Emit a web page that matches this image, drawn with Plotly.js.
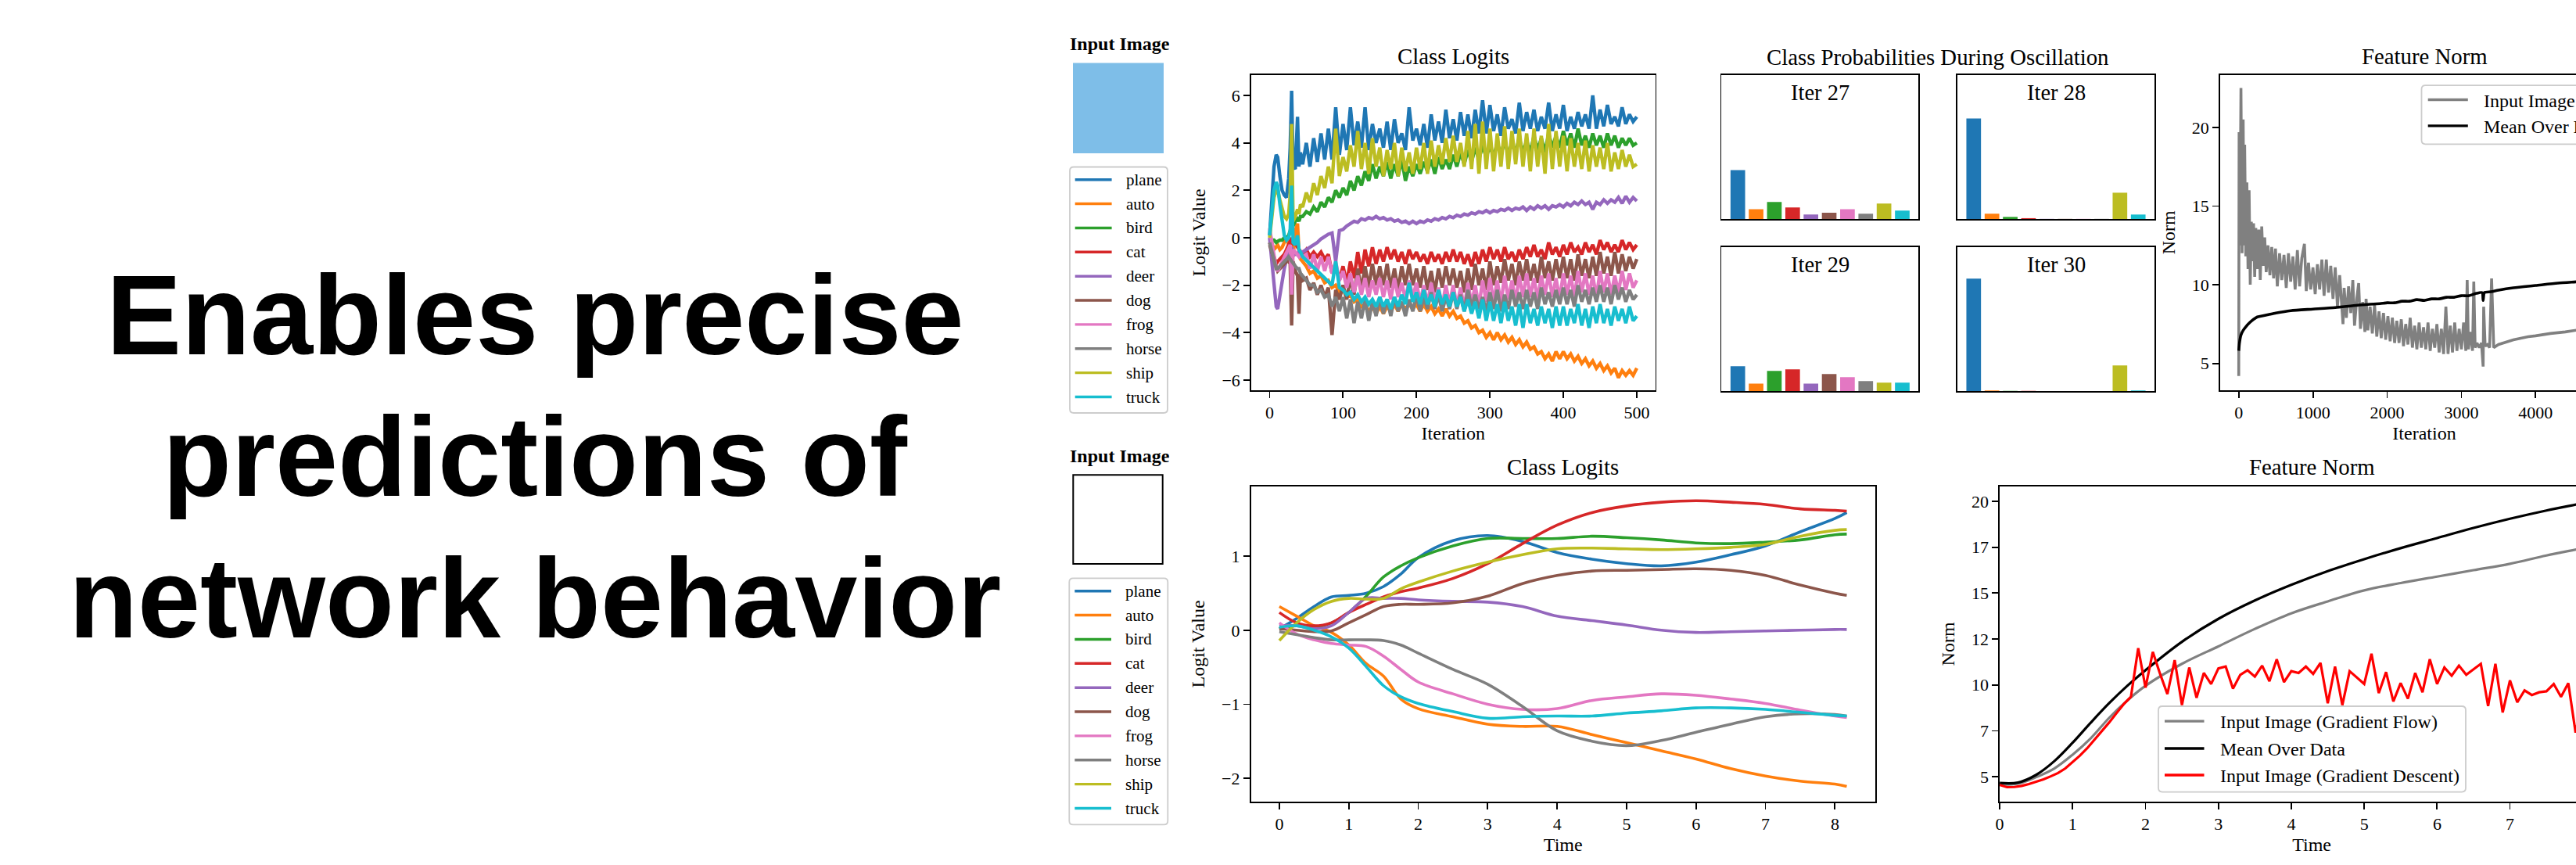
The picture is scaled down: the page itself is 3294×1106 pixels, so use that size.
<!DOCTYPE html>
<html>
<head>
<meta charset="utf-8">
<script src="https://cdn.plot.ly/plotly-3.0.1.min.js"></script>
<style>
html,body{margin:0;padding:0;background:#fff;overflow:hidden;}
#chart{width:3400px;height:1106px;}
</style>
</head>
<body>
<div id="chart"></div>
<script>
// ---------------- DATA ----------------
const CLASSES = ['plane','auto','bird','cat','deer','dog','frog','horse','ship','truck'];
const COLORS = ['#1f77b4','#ff7f0e','#2ca02c','#d62728','#9467bd','#8c564b','#e377c2','#7f7f7f','#bcbd22','#17becf'];

// Top row: gradient-descent class logits per iteration
const ITER_TOP = [0,3,6,9,11,14,17,20,23,26,28,30,32,35,38,40,42,45,
 50,55,60,65,70,75,80,85,90,95,
 100,105,110,115,120,125,130,135,140,145,
 150,155,160,165,170,175,180,185,190,195,
 200,205,210,215,220,225,230,235,240,245,
 250,255,260,265,270,275,280,285,290,295,
 300,305,310,315,320,325,330,335,340,345,
 350,355,360,365,370,375,380,385,390,395,
 400,405,410,415,420,425,430,435,440,445,
 450,455,460,465,470,475,480,485,490,495,500];

const TOP_PLANE = [0.1,1.5,3.0,3.5,3.4,2.6,2.0,1.8,1.7,2.5,3.8,6.2,3.0,2.9,5.1,3.0,3.6,3.1,
 4.0,3.0,4.2,3.2,4.4,3.3,4.6,3.3,5.5,3.5,
 4.8,3.7,5.5,3.9,4.9,3.8,5.5,3.7,4.8,4.0,
 4.6,3.8,4.9,3.7,5.0,4.0,4.4,3.7,5.5,4.1,
 4.6,3.9,4.8,3.8,5.2,4.1,4.9,4.0,5.4,4.2,
 5.0,4.1,5.3,4.3,5.2,4.2,5.4,4.4,5.8,4.4,
 5.6,4.5,5.2,4.3,5.5,4.6,5.0,4.4,5.7,4.5,
 5.3,4.6,5.4,4.5,5.1,4.6,5.7,4.5,5.2,4.6,
 5.6,4.5,5.1,4.6,5.3,4.7,5.2,4.6,6.0,4.6,
 5.4,4.7,5.6,4.8,5.1,4.7,5.5,4.8,5.2,4.9,5.1];
const TOP_AUTO = [-0.3,-0.2,-0.5,-0.4,-0.3,-0.5,-0.4,-0.2,0.0,-0.3,-0.5,-0.2,-0.8,0.3,0.6,-0.6,-0.9,-1.0,
 -1.2,-1.5,-1.4,-1.7,-1.6,-1.9,-1.8,-2.1,-2.0,-2.3,
 -2.2,-2.5,-2.4,-2.7,-2.6,-2.9,-2.8,-3.1,-2.9,-3.2,
 -2.9,-3.2,-2.9,-3.1,-2.8,-3.1,-2.8,-3.0,-2.8,-3.0,
 -2.8,-3.1,-2.8,-3.1,-2.9,-3.2,-3.0,-3.3,-3.0,-3.3,
 -3.1,-3.4,-3.3,-3.6,-3.5,-3.8,-3.7,-4.0,-3.9,-4.2,
 -4.0,-4.3,-4.0,-4.3,-4.1,-4.4,-4.2,-4.5,-4.3,-4.6,
 -4.4,-4.7,-4.6,-4.9,-4.8,-5.1,-4.9,-5.2,-4.8,-5.1,
 -4.8,-5.1,-4.9,-5.2,-5.0,-5.3,-5.1,-5.4,-5.2,-5.5,
 -5.3,-5.6,-5.4,-5.7,-5.5,-5.9,-5.6,-5.8,-5.6,-5.8,-5.5];
const TOP_BIRD = [0.0,-0.1,-0.1,-0.2,-0.15,-0.1,-0.1,0.0,0.0,0.1,0.3,0.6,0.5,0.7,0.8,0.7,0.9,0.9,
 1.1,1.0,1.3,1.1,1.5,1.3,1.7,1.5,2.0,1.7,
 2.1,1.8,2.4,2.0,2.6,2.2,2.8,2.4,3.1,2.5,
 3.0,2.6,3.2,2.5,3.1,2.6,3.3,2.4,3.0,2.6,
 3.1,2.7,3.2,2.8,3.3,2.7,3.4,2.9,3.3,2.9,
 3.5,3.0,3.6,3.1,3.7,3.2,3.8,3.3,3.9,3.4,
 3.9,3.4,4.0,3.5,4.1,3.5,4.0,3.6,4.2,3.6,
 4.1,3.6,4.3,3.7,4.2,3.6,4.4,3.8,4.3,3.8,
 4.5,3.9,4.4,3.8,4.6,3.9,4.3,3.8,4.4,3.9,
 4.3,3.8,4.4,3.9,4.3,3.8,4.2,3.9,4.2,3.9,4.0];
const TOP_CAT = [-0.2,-0.5,-0.9,-1.1,-1.0,-0.9,-0.8,-0.7,-0.5,-0.3,-0.1,0.0,-0.3,-0.2,-0.4,-0.5,-0.6,-0.7,
 -0.5,-0.8,-0.6,-0.8,-0.6,-0.9,-0.7,-1.5,-1.2,-1.8,
 -1.2,-1.9,-1.0,-1.7,-0.6,-1.5,-0.5,-1.2,-0.4,-1.1,
 -0.5,-1.0,-0.4,-0.9,-0.5,-1.0,-0.6,-1.1,-0.5,-0.9,
 -0.6,-1.0,-0.7,-1.1,-0.6,-1.0,-0.7,-1.1,-0.6,-1.0,
 -0.5,-1.0,-0.6,-1.1,-0.7,-1.2,-0.6,-1.1,-0.5,-1.0,
 -0.4,-0.9,-0.5,-1.0,-0.4,-0.9,-0.6,-1.0,-0.5,-0.9,
 -0.4,-0.8,-0.3,-0.8,-0.5,-0.9,-0.2,-0.7,-0.4,-0.8,
 -0.3,-0.7,-0.2,-0.6,-0.4,-0.7,-0.2,-0.6,-0.3,-0.7,
 -0.1,-0.5,-0.2,-0.6,-0.3,-0.6,-0.1,-0.5,-0.2,-0.5,-0.3];
const TOP_DEER = [0.0,-1.0,-2.2,-2.9,-3.0,-2.4,-1.8,-1.3,-0.9,-0.6,-0.5,-0.4,-0.6,-0.7,-0.7,-0.6,-0.6,-0.6,
 -0.5,-0.4,-0.3,-0.2,-0.05,0.05,0.15,0.2,-1.0,0.3,
 0.35,0.5,0.6,0.7,0.65,0.8,0.75,0.85,0.8,0.9,
 0.8,0.85,0.75,0.8,0.7,0.75,0.65,0.7,0.6,0.7,
 0.6,0.7,0.65,0.75,0.7,0.8,0.75,0.85,0.8,0.9,
 0.85,0.95,0.9,1.0,0.95,1.05,1.0,1.1,1.05,1.15,
 1.05,1.15,1.1,1.2,1.15,1.25,1.15,1.25,1.2,1.3,
 1.15,1.3,1.2,1.35,1.25,1.35,1.2,1.35,1.3,1.4,
 1.3,1.45,1.35,1.5,1.4,1.55,1.4,1.5,1.2,1.5,
 1.4,1.6,1.45,1.6,1.5,1.7,1.45,1.75,1.5,1.7,1.55];
const TOP_DOG = [-0.3,-0.6,-1.0,-1.3,-1.4,-1.3,-1.2,-1.1,-1.0,-1.0,-1.1,-3.7,-1.0,-1.4,-1.6,-3.2,-1.5,-1.8,
 -1.7,-2.2,-1.9,-2.4,-2.0,-2.5,-2.1,-4.1,-2.2,-2.6,
 -2.0,-2.6,-1.7,-2.4,-1.3,-2.2,-1.2,-2.1,-1.1,-2.0,
 -1.2,-2.0,-1.1,-2.1,-1.3,-2.2,-1.2,-2.0,-1.1,-2.0,
 -1.3,-2.1,-1.2,-2.2,-1.4,-2.3,-1.3,-2.1,-1.2,-2.0,
 -1.3,-2.1,-1.4,-2.3,-1.3,-2.2,-1.1,-2.0,-1.3,-2.2,
 -1.0,-2.0,-1.2,-1.9,-0.9,-1.8,-1.1,-2.0,-1.0,-1.8,
 -0.9,-1.8,-1.1,-1.9,-0.8,-1.7,-1.0,-1.8,-0.9,-1.7,
 -0.8,-1.7,-0.9,-1.8,-0.7,-1.6,-0.9,-1.7,-0.8,-1.6,
 -0.6,-1.5,-0.8,-1.6,-0.6,-1.5,-0.7,-1.4,-0.8,-1.3,-0.9];
const TOP_FROG = [0.4,-0.2,-0.8,-1.3,-1.4,-1.2,-1.0,-0.8,-0.6,-0.4,-0.3,-2.4,-0.5,-0.6,-0.7,-0.8,-0.7,-0.8,
 -0.7,-1.3,-0.7,-1.4,-0.8,-1.4,-0.8,-1.5,-1.0,-1.8,
 -1.4,-2.1,-1.5,-2.3,-1.6,-2.4,-1.7,-2.5,-1.8,-2.4,
 -1.7,-2.5,-1.8,-2.6,-1.7,-2.5,-1.9,-2.6,-1.8,-2.5,
 -1.9,-2.7,-2.0,-2.8,-1.9,-2.7,-2.1,-2.9,-2.0,-2.8,
 -2.0,-2.9,-2.1,-3.0,-1.9,-2.8,-2.0,-2.9,-1.8,-2.7,
 -1.7,-2.7,-1.8,-2.8,-1.6,-2.6,-1.8,-2.7,-1.6,-2.5,
 -1.5,-2.5,-1.7,-2.6,-1.6,-2.4,-1.5,-2.5,-1.7,-2.6,
 -1.5,-2.4,-1.6,-2.5,-1.4,-2.3,-1.5,-2.4,-1.6,-2.5,
 -1.4,-2.3,-1.5,-2.4,-1.6,-2.3,-1.4,-2.2,-1.5,-2.1,-1.8];
const TOP_HORSE = [-0.2,-0.6,-1.0,-1.3,-1.3,-1.2,-1.1,-1.0,-0.9,-0.8,-0.9,-1.0,-1.1,-1.2,-1.3,-1.3,-1.5,-1.6,
 -1.8,-2.0,-2.0,-2.3,-2.2,-2.5,-2.4,-2.9,-2.5,-3.1,
 -2.5,-3.4,-2.6,-3.6,-2.7,-3.4,-2.6,-3.5,-2.7,-3.3,
 -2.5,-3.2,-2.6,-3.3,-2.5,-3.1,-2.7,-3.3,-2.6,-3.1,
 -2.4,-3.1,-2.5,-3.0,-2.3,-3.0,-2.4,-3.1,-2.5,-3.0,
 -2.3,-3.0,-2.4,-3.1,-2.2,-2.9,-2.4,-3.0,-2.5,-3.1,
 -2.3,-3.0,-2.2,-3.1,-2.4,-3.0,-2.2,-2.9,-2.3,-3.0,
 -2.2,-2.9,-2.3,-3.0,-2.1,-2.8,-2.3,-2.9,-2.2,-2.8,
 -2.1,-2.8,-2.2,-2.9,-2.0,-2.7,-2.2,-2.8,-2.1,-2.7,
 -2.0,-2.7,-2.1,-2.8,-2.0,-2.6,-2.1,-2.7,-2.2,-2.6,-2.4];
const TOP_SHIP = [0.0,0.8,1.7,2.0,2.0,1.6,1.2,0.9,0.8,1.0,1.8,4.8,0.7,0.9,1.2,1.0,1.4,1.3,
 1.9,1.5,2.3,1.8,2.6,2.1,3.0,2.3,4.6,2.6,
 3.4,2.8,3.9,3.0,4.5,2.9,4.0,2.7,4.2,3.0,
 3.8,2.6,3.7,2.9,4.0,2.6,3.8,2.8,3.6,2.7,
 3.8,2.9,4.0,2.7,4.1,3.0,3.9,3.1,4.2,3.2,
 4.3,3.2,4.0,3.0,4.5,2.9,4.8,2.7,4.9,2.9,
 4.6,2.8,4.4,3.0,4.7,2.9,4.5,3.1,4.6,3.0,
 4.4,2.8,4.6,3.0,4.3,2.7,4.8,2.9,4.5,3.0,
 4.3,2.8,4.2,3.0,4.0,2.9,4.1,2.8,3.9,3.0,
 3.8,2.9,4.0,2.8,3.6,2.9,3.7,3.0,3.5,3.0,3.1];
const TOP_TRUCK = [0.1,1.0,2.0,2.35,2.2,1.4,0.6,0.1,-0.1,0.0,0.3,2.2,-0.2,-0.3,0.1,-0.5,-0.6,-0.8,
 -0.95,-1.1,-1.25,-1.4,-1.55,-1.7,-1.85,-2.0,-1.0,-2.1,
 -2.2,-2.4,-2.3,-2.6,-2.4,-2.7,-2.5,-2.8,-2.6,-2.9,
 -2.5,-2.9,-2.6,-3.0,-2.5,-2.9,-2.4,-2.8,-1.9,-2.7,
 -2.3,-2.8,-2.2,-2.8,-2.4,-2.9,-2.2,-2.8,-2.4,-2.9,
 -2.3,-2.9,-2.5,-3.1,-2.6,-3.2,-2.7,-3.4,-2.6,-3.5,
 -2.7,-3.5,-2.8,-3.6,-2.7,-3.5,-2.9,-3.7,-2.8,-3.8,
 -2.8,-3.6,-3.0,-3.7,-2.9,-3.6,-3.0,-3.8,-2.9,-3.7,
 -2.9,-3.7,-3.0,-3.6,-2.8,-3.7,-3.0,-3.8,-2.9,-3.6,
 -2.8,-3.6,-3.0,-3.7,-2.9,-3.5,-3.0,-3.6,-2.9,-3.5,-3.3];

// Class probabilities at four oscillation iterations
const ITER_LABELS = ['Iter 27','Iter 28','Iter 29','Iter 30'];
const PROB_27 = [0.352,0.071,0.122,0.083,0.032,0.045,0.071,0.038,0.111,0.060];
const PROB_28 = [0.723,0.038,0.015,0.006,0.001,0.001,0.001,0.001,0.189,0.032];
const PROB_29 = [0.178,0.054,0.144,0.156,0.054,0.122,0.099,0.071,0.060,0.060];
const PROB_30 = [0.807,0.004,0.001,0.001,0.0005,0.0005,0.0005,0.0005,0.184,0.004];

// Top feature norm
const FN_ITER_IMG = [0,5,15,30,45,60,70,80,95,110,125,140,155,170,185,200,215,230,250,270,290,310,330,350,370,395,420,445,470,495,
 520,550,580,610,640,670,700,730,760,790,820,850,885,910,940,970,1000,1030,1060,1090,1120,1150,1180,1210,1240,1270,1300,1330,1360,1390,
 1405,1420,1450,1480,1510,1537,1560,1590,1616,1640,1670,1700,1716,1740,1770,1800,1830,1860,1890,1920,1950,1980,2010,2040,2070,2100,2130,2160,2190,2220,
 2250,2280,2310,2340,2370,2400,2430,2460,2490,2520,2550,2580,2610,2640,2670,2700,2730,2760,2791,2820,2850,2880,2910,2940,2970,3000,3030,3060,3078,3095,
 3120,3150,3167,3185,3210,3240,3270,3293,3300,3320,3350,3380,3407,3436,3500,3600,3700,3800,3900,4000,4200,4400,4600,4800,5000];
const FN_IMG = [4.2,19.7,12.5,22.5,12.0,20.5,12.5,18.9,11.8,16.5,11.0,16.0,10.0,14.0,11.5,13.9,10.5,13.6,11.0,13.5,10.3,13.7,11.2,13.0,10.8,12.5,10.6,12.4,10.4,12.3,
 9.9,12.0,10.3,11.9,9.8,12.0,10.2,11.8,9.7,12.2,9.9,11.7,12.6,9.6,11.4,9.7,11.1,9.4,11.3,9.7,11.6,9.3,11.6,9.5,11.2,9.1,11.1,8.6,10.6,8.4,
 7.5,9.8,7.9,9.9,8.2,10.3,7.4,9.1,10.1,7.2,8.9,7.0,9.1,7.1,8.6,6.9,8.7,6.7,8.3,6.6,8.2,6.5,8.0,6.4,7.9,6.3,7.7,6.3,7.8,6.1,
 7.5,6.2,7.9,6.0,7.4,5.9,7.6,6.0,7.3,5.9,7.6,5.8,7.2,6.0,7.5,5.7,7.2,5.6,8.6,5.6,7.4,5.7,7.6,5.8,7.2,5.9,7.6,5.8,10.3,5.9,
 7.0,5.8,10.2,6.0,6.3,6.0,6.3,4.8,8.6,6.1,6.2,6.0,10.4,6.0,6.2,6.35,6.5,6.6,6.7,6.75,6.9,7.0,7.15,7.25,7.35];
const FN_ITER_MEAN = [0,10,30,60,100,150,200,250,300,400,500,700,1000,1300,1600,1900,2000,2100,2200,2300,2400,2500,2600,2700,2800,2900,3000,3100,3200,3280,3293,3310,3400,3500,3700,4000,4300,4600,5000];
const FN_MEAN = [5.8,6.3,6.8,7.1,7.35,7.6,7.8,7.95,8.0,8.1,8.2,8.35,8.45,8.55,8.7,8.8,8.85,8.85,8.95,8.95,9.05,9.0,9.1,9.1,9.2,9.2,9.3,9.3,9.45,9.5,9.0,9.5,9.55,9.65,9.8,9.95,10.1,10.2,10.35];

// Bottom row: gradient-flow class logits over time
const TIME_BOT = [0,0.25,0.5,0.75,1,1.25,1.5,1.75,2,2.5,3,3.5,4,4.5,5,5.5,6,6.5,7,7.5,8,8.17];
const BOT_PLANE = [0.02,0.16,0.32,0.45,0.47,0.5,0.59,0.76,0.98,1.21,1.28,1.2,1.05,0.96,0.9,0.87,0.92,1.02,1.14,1.33,1.51,1.59];
const BOT_AUTO  = [0.32,0.19,0.06,-0.03,-0.2,-0.45,-0.62,-0.93,-1.06,-1.17,-1.27,-1.30,-1.30,-1.41,-1.52,-1.63,-1.74,-1.87,-1.97,-2.04,-2.08,-2.11];
const BOT_BIRD  = [0.02,0.06,0.04,0.1,0.24,0.46,0.72,0.87,0.98,1.14,1.24,1.24,1.24,1.27,1.25,1.22,1.18,1.17,1.19,1.22,1.29,1.30];
const BOT_CAT   = [0.24,0.1,0.06,0.1,0.24,0.35,0.45,0.52,0.57,0.7,0.9,1.17,1.42,1.59,1.68,1.73,1.75,1.73,1.70,1.64,1.62,1.61];
const BOT_DEER  = [0.06,0.06,0.02,0.06,0.24,0.43,0.43,0.43,0.41,0.39,0.38,0.32,0.19,0.13,0.07,0.0,-0.03,-0.02,-0.01,0.0,0.01,0.01];
const BOT_DOG   = [0.02,0.0,-0.02,-0.01,0.1,0.21,0.32,0.35,0.35,0.37,0.46,0.63,0.74,0.8,0.81,0.82,0.83,0.81,0.74,0.61,0.5,0.47];
const BOT_FROG  = [0.1,-0.05,-0.13,-0.18,-0.2,-0.22,-0.35,-0.53,-0.7,-0.86,-1.0,-1.07,-1.06,-0.95,-0.9,-0.86,-0.88,-0.93,-0.99,-1.08,-1.16,-1.18];
const BOT_HORSE = [-0.02,-0.06,-0.1,-0.13,-0.13,-0.13,-0.14,-0.2,-0.31,-0.53,-0.73,-1.03,-1.36,-1.5,-1.56,-1.49,-1.38,-1.27,-1.17,-1.13,-1.14,-1.16];
const BOT_SHIP  = [-0.14,0.1,0.28,0.39,0.43,0.42,0.43,0.56,0.65,0.8,0.92,1.02,1.1,1.11,1.1,1.09,1.1,1.12,1.16,1.27,1.35,1.36];
const BOT_TRUCK = [0.04,0.06,0.0,-0.09,-0.24,-0.49,-0.75,-0.9,-0.99,-1.1,-1.19,-1.17,-1.16,-1.16,-1.12,-1.09,-1.05,-1.05,-1.07,-1.11,-1.15,-1.16];

// Bottom feature norm
const FN_BOT_FLOW = [4.57,4.62,4.98,5.45,6.2,7.1,8.2,9.15,9.95,11.15,12.1,13.05,13.9,14.55,15.15,15.55,15.9,16.25,16.6,17.05,17.45,17.6];
const FN_BOT_MEAN = [4.66,4.68,5.1,5.85,6.85,7.95,9.0,9.95,10.8,12.35,13.6,14.6,15.45,16.2,16.85,17.45,18.0,18.55,19.05,19.5,19.9,20.05];
const TIME_GD = [0,0.1,0.2,0.3,0.4,0.5,0.6,0.7,0.8,0.9,1.0,1.1,1.2,1.3,1.4,1.5,1.6,1.7,1.8,1.9,
 2.0,2.1,2.2,2.3,2.4,2.5,2.6,2.7,2.8,2.9,3.0,3.1,3.2,3.3,3.4,3.5,3.6,3.7,3.8,3.9,
 4.0,4.1,4.2,4.3,4.4,4.5,4.6,4.7,4.8,4.9,5.0,5.1,5.2,5.3,5.4,5.5,5.6,5.7,5.8,5.9,
 6.0,6.1,6.2,6.3,6.4,6.5,6.6,6.7,6.8,6.9,7.0,7.1,7.2,7.3,7.4,7.5,7.6,7.7,7.8,7.9,8.0];
const FN_BOT_GD = [4.55,4.43,4.44,4.5,4.6,4.72,4.86,5.02,5.2,5.45,5.8,6.15,6.55,7.0,7.45,7.95,8.45,8.95,9.35,12.0,
 9.85,11.8,10.6,9.5,11.35,8.9,10.95,9.3,10.65,10.05,10.9,11.0,9.8,10.55,10.8,10.45,11.05,10.2,11.4,10.15,
 10.75,10.65,11.0,10.6,11.2,9.0,11.0,8.9,10.75,10.4,10.05,11.7,9.55,10.7,9.1,10.1,9.25,10.65,9.6,11.4,
 10.05,10.95,10.5,11.05,10.55,10.85,11.15,8.85,11.15,8.5,10.25,9.05,9.7,9.45,9.6,9.65,10.05,9.35,10.1,7.4,9.3];

const FN_TICK_VALS = [5,7.5,10,12.5,15,17.5,20];
const FN_TICK_TEXT = ['5','7','10','12','15','17','20'];

// ---------------- LAYOUT HELPERS ----------------
const W = 3400, H = 1106;
const X = px => px / W;
const Y = py => 1 - py / H;
const SERIF = 'Liberation Serif, Times New Roman, serif';
const SANS = 'Liberation Sans, Arial, sans-serif';

function axis(extra) {
  return Object.assign({
    showline: true, mirror: true, linecolor: '#000', linewidth: 1.8,
    ticks: 'outside', ticklen: 8, tickwidth: 1.8, tickcolor: '#000',
    showgrid: false, zeroline: false, fixedrange: true,
    tickfont: {family: SERIF, size: 22, color: '#000'}
  }, extra);
}
function atitle(text, standoff) {
  return {text: text, font: {family: SERIF, size: 24, color: '#000'}, standoff: standoff};
}
function label(text, cx, baseline, size, extra) {
  return Object.assign({
    xref: 'paper', yref: 'paper', x: X(cx), y: Y(baseline - 0.3375 * size),
    xanchor: 'center', yanchor: 'middle', showarrow: false, text: text,
    font: {family: SERIF, size: size, color: '#000'}
  }, extra || {});
}
function roundRect(x0, y0, x1, y1, r) {
  const p = (a, b) => X(a).toFixed(6) + ',' + Y(b).toFixed(6);
  return 'M' + p(x0 + r, y0) + ' L' + p(x1 - r, y0) + ' Q' + p(x1, y0) + ' ' + p(x1, y0 + r) +
    ' L' + p(x1, y1 - r) + ' Q' + p(x1, y1) + ' ' + p(x1 - r, y1) +
    ' L' + p(x0 + r, y1) + ' Q' + p(x0, y1) + ' ' + p(x0, y1 - r) +
    ' L' + p(x0, y0 + r) + ' Q' + p(x0, y0) + ' ' + p(x0 + r, y0) + ' Z';
}

// ---------------- TRACES ----------------
const TOP_SERIES = [TOP_PLANE, TOP_AUTO, TOP_BIRD, TOP_CAT, TOP_DEER, TOP_DOG, TOP_FROG, TOP_HORSE, TOP_SHIP, TOP_TRUCK];
const BOT_SERIES = [BOT_PLANE, BOT_AUTO, BOT_BIRD, BOT_CAT, BOT_DEER, BOT_DOG, BOT_FROG, BOT_HORSE, BOT_SHIP, BOT_TRUCK];
const PROBS = [PROB_27, PROB_28, PROB_29, PROB_30];

const traces = [];
TOP_SERIES.forEach((ys, i) => traces.push({
  type: 'scatter', mode: 'lines', x: ITER_TOP, y: ys, name: CLASSES[i],
  xaxis: 'x', yaxis: 'y', line: {color: COLORS[i], width: 4.4}, showlegend: false, hoverinfo: 'skip'
}));
PROBS.forEach((p, k) => traces.push({
  type: 'bar', x: CLASSES, y: p, name: ITER_LABELS[k], width: 0.8,
  xaxis: 'x' + (k + 2), yaxis: 'y' + (k + 2), marker: {color: COLORS, line: {width: 0}},
  showlegend: false, hoverinfo: 'skip'
}));
traces.push({type: 'scatter', mode: 'lines', x: FN_ITER_IMG, y: FN_IMG, name: 'Input Image',
  xaxis: 'x6', yaxis: 'y6', line: {color: '#808080', width: 3.6}, showlegend: false, hoverinfo: 'skip'});
traces.push({type: 'scatter', mode: 'lines', x: FN_ITER_MEAN, y: FN_MEAN, name: 'Mean Over Data',
  xaxis: 'x6', yaxis: 'y6', line: {color: '#000', width: 3.6, shape: 'spline', smoothing: 0.6}, showlegend: false, hoverinfo: 'skip'});
BOT_SERIES.forEach((ys, i) => traces.push({
  type: 'scatter', mode: 'lines', x: TIME_BOT, y: ys, name: CLASSES[i],
  xaxis: 'x7', yaxis: 'y7', line: {color: COLORS[i], width: 3.6, shape: 'spline', smoothing: 1}, showlegend: false, hoverinfo: 'skip'
}));
traces.push({type: 'scatter', mode: 'lines', x: TIME_BOT, y: FN_BOT_FLOW, name: 'Input Image (Gradient Flow)',
  xaxis: 'x8', yaxis: 'y8', line: {color: '#808080', width: 3.2, shape: 'spline', smoothing: 1}, showlegend: false, hoverinfo: 'skip'});
traces.push({type: 'scatter', mode: 'lines', x: TIME_BOT, y: FN_BOT_MEAN, name: 'Mean Over Data',
  xaxis: 'x8', yaxis: 'y8', line: {color: '#000', width: 3.2, shape: 'spline', smoothing: 1}, showlegend: false, hoverinfo: 'skip'});
traces.push({type: 'scatter', mode: 'lines', x: TIME_GD, y: FN_BOT_GD, name: 'Input Image (Gradient Descent)',
  xaxis: 'x8', yaxis: 'y8', line: {color: '#ff0000', width: 3.2}, showlegend: false, hoverinfo: 'skip'});

// ---------------- AXES ----------------
const barAxisX = d => axis({domain: d, range: [-0.89, 9.89], ticks: '', showticklabels: false, type: 'category'});
const barAxisY = d => axis({domain: d, range: [0, 1.035], ticks: '', showticklabels: false});
const ROW1 = [Y(499), Y(95.7)];
const ROW2 = [Y(1024.8), Y(622)];
const BARTOP = [Y(280), Y(96)];
const BARBOT = [Y(500), Y(315.7)];
const BARL = [X(2201.4), X(2453.3)];
const BARR = [X(2503), X(2755)];

const layout = {
  width: W, height: H, autosize: false,
  margin: {l: 0, r: 0, t: 0, b: 0, pad: 0},
  paper_bgcolor: '#fff', plot_bgcolor: '#fff',
  showlegend: false, hovermode: false,
  font: {family: SERIF, color: '#000'},
  xaxis: axis({domain: [X(1600), X(2116.5)], range: [-25, 525], tickvals: [0,100,200,300,400,500], anchor: 'y', title: atitle('Iteration', 6)}),
  yaxis: axis({domain: ROW1, range: [-6.43, 6.87], tickvals: [-6,-4,-2,0,2,4,6], anchor: 'x', title: atitle('Logit Value', 14)}),
  xaxis2: Object.assign(barAxisX(BARL), {anchor: 'y2'}), yaxis2: Object.assign(barAxisY(BARTOP), {anchor: 'x2'}),
  xaxis3: Object.assign(barAxisX(BARR), {anchor: 'y3'}), yaxis3: Object.assign(barAxisY(BARTOP), {anchor: 'x3'}),
  xaxis4: Object.assign(barAxisX(BARL), {anchor: 'y4'}), yaxis4: Object.assign(barAxisY(BARBOT), {anchor: 'x4'}),
  xaxis5: Object.assign(barAxisX(BARR), {anchor: 'y5'}), yaxis5: Object.assign(barAxisY(BARBOT), {anchor: 'x5'}),
  xaxis6: axis({domain: [X(2839), X(3361)], range: [-250, 5250], tickvals: [0,1000,2000,3000,4000,5000], anchor: 'y6', title: atitle('Iteration', 6)}),
  yaxis6: axis({domain: ROW1, range: [3.29, 23.34], tickvals: [5,10,15,20], anchor: 'x6', title: atitle('Norm', 14)}),
  xaxis7: axis({domain: [X(1599.6), X(2397.9)], range: [-0.409, 8.58], tickvals: [0,1,2,3,4,5,6,7,8], anchor: 'y7', title: atitle('Time', 6)}),
  yaxis7: axis({domain: ROW2, range: [-2.315, 1.943], tickvals: [-2,-1,0,1], anchor: 'x7', title: atitle('Logit Value', 14)}),
  xaxis8: axis({domain: [X(2557.1), X(3355)], range: [0, 8.56], tickvals: [0,1,2,3,4,5,6,7,8], anchor: 'y8', title: atitle('Time', 6)}),
  yaxis8: axis({domain: ROW2, range: [3.65, 20.81], tickvals: FN_TICK_VALS, ticktext: FN_TICK_TEXT, anchor: 'x8', title: atitle('Norm', 14)}),
  shapes: [],
  annotations: []
};

// Big statement text
const BIG = ['Enables precise', 'predictions of', 'network behavior'];
const BIG_BASE = [453, 634, 815];
BIG.forEach((t, i) => layout.annotations.push({
  xref: 'paper', yref: 'paper', x: X(684), y: Y(BIG_BASE[i] - 0.3465 * 144), xanchor: 'center', yanchor: 'middle',
  showarrow: false, text: t, font: {family: SANS, size: 144, color: '#000', weight: 'bold'}
}));

// Subplot titles
layout.annotations.push(label('Class Logits', 1858, 81.7, 28.8));
layout.annotations.push(label('Class Probabilities During Oscillation', 2478, 82.3, 28.8));
layout.annotations.push(label('Feature Norm', 3100, 81.7, 28.8));
layout.annotations.push(label('Class Logits', 1998.7, 607, 28.8));
layout.annotations.push(label('Feature Norm', 2956, 607, 28.8));
layout.annotations.push(label(ITER_LABELS[0], 2327.4, 128.3, 28.5));
layout.annotations.push(label(ITER_LABELS[1], 2629, 128.3, 28.5));
layout.annotations.push(label(ITER_LABELS[2], 2327.4, 348.3, 28.5));
layout.annotations.push(label(ITER_LABELS[3], 2629, 348.3, 28.5));

// Input image panels
[64.4, 590.7].forEach(b => layout.annotations.push(label('Input Image', 1432, b, 24, {font: {family: SERIF, size: 24, color: '#000', weight: 'bold'}})));
layout.shapes.push({type: 'rect', xref: 'paper', yref: 'paper', x0: X(1372), x1: X(1488), y0: Y(196), y1: Y(80.6),
  fillcolor: 'rgb(126,190,232)', line: {width: 0}});
layout.shapes.push({type: 'rect', xref: 'paper', yref: 'paper', x0: X(1372.3), x1: X(1486.7), y0: Y(721), y1: Y(607.3),
  fillcolor: '#fff', line: {color: '#000', width: 2}});

// Class legends (top and bottom)
function classLegend(x0, y0, x1, y1, firstY, step, lineX0, lineX1, textX) {
  layout.shapes.push({type: 'path', xref: 'paper', yref: 'paper', path: roundRect(x0, y0, x1, y1, 5),
    fillcolor: 'rgba(255,255,255,0.8)', line: {color: '#cccccc', width: 1.8}});
  CLASSES.forEach((c, i) => {
    const yy = firstY + i * step;
    layout.shapes.push({type: 'line', xref: 'paper', yref: 'paper', x0: X(lineX0), x1: X(lineX1), y0: Y(yy), y1: Y(yy),
      line: {color: COLORS[i], width: 3.4}});
    layout.annotations.push({xref: 'paper', yref: 'paper', x: X(textX), y: Y(yy), xanchor: 'left', yanchor: 'middle',
      showarrow: false, text: c, font: {family: SERIF, size: 21, color: '#000'}});
  });
}
classLegend(1368, 213.5, 1493, 528, 229.7, 30.87, 1374.7, 1421.6, 1438);
classLegend(1367.3, 739.3, 1493.3, 1054.4, 755.7, 30.87, 1374.3, 1421, 1437.3);

// Feature norm legends
function normLegend(x0, y0, x1, y1, entries, lineX0, lineX1, textX) {
  layout.shapes.push({type: 'path', xref: 'paper', yref: 'paper', path: roundRect(x0, y0, x1, y1, 5),
    fillcolor: 'rgba(255,255,255,0.8)', line: {color: '#cccccc', width: 1.8}});
  entries.forEach(e => {
    layout.shapes.push({type: 'line', xref: 'paper', yref: 'paper', x0: X(lineX0), x1: X(lineX1), y0: Y(e.y), y1: Y(e.y),
      line: {color: e.color, width: 3.4}});
    layout.annotations.push({xref: 'paper', yref: 'paper', x: X(textX), y: Y(e.y + 1), xanchor: 'left', yanchor: 'middle',
      showarrow: false, text: e.text, font: {family: SERIF, size: 24, color: '#000'}});
  });
}
normLegend(3096.5, 109.2, 3352, 184.3, [
  {y: 127.5, color: '#808080', text: traces[14].name},
  {y: 160.9, color: '#000', text: traces[15].name}
], 3104.7, 3155.8, 3173.8);
normLegend(2760, 903, 3153, 1012.6, [
  {y: 922.1, color: '#808080', text: 'Input Image (Gradient Flow)'},
  {y: 957, color: '#000', text: 'Mean Over Data'},
  {y: 991, color: '#ff0000', text: 'Input Image (Gradient Descent)'}
], 2768, 2818.5, 2837);

Plotly.newPlot('chart', traces, layout, {staticPlot: true, displayModeBar: false});
</script>
</body>
</html>
